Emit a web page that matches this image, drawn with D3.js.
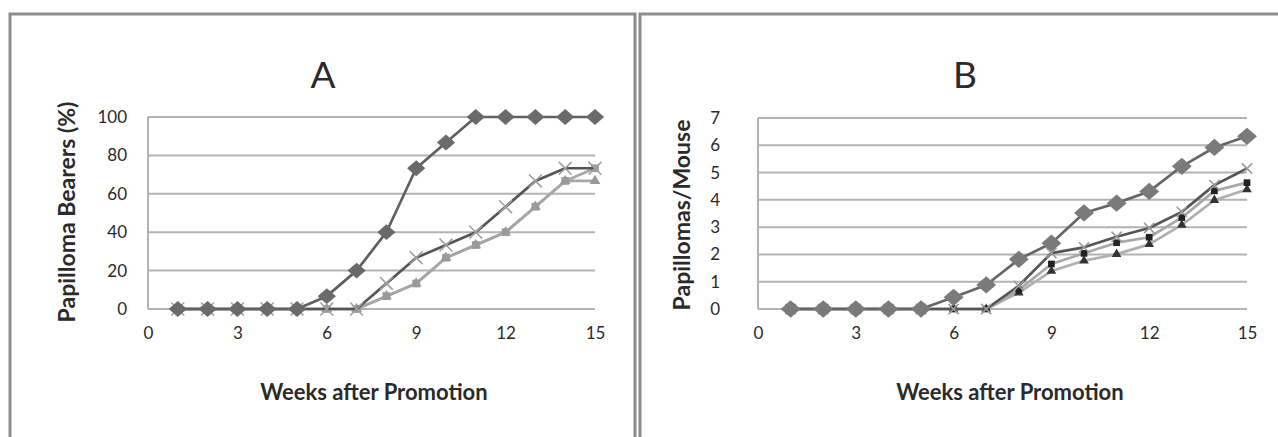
<!DOCTYPE html>
<html><head><meta charset="utf-8">
<script src="https://cdn.jsdelivr.net/npm/d3@7"></script>
<style>
html,body{margin:0;padding:0;background:#fff;}
svg{display:block;}
text{font-family:Lato, "Open Sans", sans-serif;fill:#2a2a2a;}
</style></head>
<body>
<svg id="chart" width="1278" height="437"></svg>
<script>
const weeks = [1,2,3,4,5,6,7,8,9,10,11,12,13,14,15];
const xTicks = [0,3,6,9,12,15];

// Panel A: Papilloma Bearers (%)
const aDiamond  = [0,0,0,0,0,6.7,20,40,73.3,86.7,100,100,100,100,100];
const aCross    = [0,0,0,0,0,0,0,13.3,26.7,33.3,40,53.3,66.7,73.3,73.3];
const aSquare   = [0,0,0,0,0,0,0,6.7,13.3,26.7,33.3,40,53.3,66.7,73.3];
const aTriangle = [0,0,0,0,0,0,0,6.7,13.3,26.7,33.3,40,53.3,66.7,66.7];
const aYTicks = [0,20,40,60,80,100];

// Panel B: Papillomas/Mouse
const bDiamond  = [0,0,0,0,0,0.43,0.88,1.82,2.41,3.52,3.88,4.31,5.23,5.92,6.33];
const bCross    = [0,0,0,0,0,0,0,0.85,2.05,2.26,2.65,2.97,3.56,4.54,5.15];
const bSquare   = [0,0,0,0,0,0,0,0.7,1.65,2.04,2.43,2.63,3.35,4.33,4.63];
const bTriangle = [0,0,0,0,0,0,0,0.6,1.39,1.77,2.01,2.37,3.08,3.99,4.38];
const bYTicks = [0,1,2,3,4,5,6,7];

const svg = d3.select("#chart");

// frames
svg.append("path").attr("d","M10,440 L10,14 L635,14 L635,440")
  .attr("fill","none").attr("stroke","#8c8c8c").attr("stroke-width",3);
svg.append("path").attr("d","M640,440 L640,14 L1280,14")
  .attr("fill","none").attr("stroke","#8c8c8c").attr("stroke-width",3);

function panel(cfg){
  const g = svg.append("g");
  const x = d3.scaleLinear().domain([0,15]).range([cfg.x0,cfg.x1]);
  const y = d3.scaleLinear().domain([0,cfg.ymax]).range([cfg.y0,cfg.y1]);

  // gridlines
  g.selectAll(".grid").data(cfg.yTicks).join("line")
    .attr("x1",cfg.x0).attr("x2",cfg.x1)
    .attr("y1",d=>y(d)).attr("y2",d=>y(d))
    .attr("stroke","#b3b3b3").attr("stroke-width",2);
  // left axis line
  g.append("line").attr("x1",cfg.x0).attr("x2",cfg.x0)
    .attr("y1",y(0)).attr("y2",y(cfg.ymax))
    .attr("stroke","#b3b3b3").attr("stroke-width",2);

  // y tick labels
  const yAxis = d3.axisLeft(y).tickValues(cfg.yTicks).tickFormat(d3.format("d")).tickSize(0).tickPadding(cfg.ypad);
  const ya = g.append("g").attr("transform",`translate(${cfg.x0},0)`).call(yAxis);
  ya.select(".domain").remove();
  ya.selectAll("text").style("font-family","Lato, sans-serif").style("font-size","17px").attr("fill","#333");

  // x tick labels
  const xAxis = d3.axisBottom(x).tickValues(xTicks).tickFormat(d3.format("d")).tickSize(0).tickPadding(18);
  const xa = g.append("g").attr("transform",`translate(0,${y(0)})`).call(xAxis);
  xa.select(".domain").remove();
  xa.selectAll("text").style("font-family","Lato, sans-serif").style("font-size","17px").attr("fill","#333");

  // titles
  g.append("text").attr("x",cfg.titleX).attr("y",88).attr("text-anchor","middle")
    .style("font-size","37px").text(cfg.title);
  g.append("text").attr("x",cfg.xlabX).attr("y",400).attr("text-anchor","middle")
    .style("font-size","22px").style("font-weight","bold").text("Weeks after Promotion");
  g.append("text").attr("transform",`translate(${cfg.ylabX},${cfg.ylabY}) rotate(-90)`)
    .attr("text-anchor","middle").style("font-size","23px").style("font-weight","bold").text(cfg.ylabel);

  const line = d3.line().x((d,i)=>x(weeks[i])).y(d=>y(d));

  cfg.series.forEach(s=>{
    const sg = g.append("g");
    sg.append("path").datum(s.values).attr("d",line).attr("fill","none")
      .attr("stroke",s.line).attr("stroke-width",2.7).attr("stroke-linejoin","round");
    const pts = sg.selectAll(".m").data(s.values).join("g")
      .attr("transform",(d,i)=>`translate(${x(weeks[i])},${y(d)})`);
    if(s.shape==="diamond"){
      pts.append("path").attr("d",d3.symbol(d3.symbolDiamond2,s.size)())
        .attr("transform","scale(1.15,1)").attr("fill",s.marker);
    } else if(s.shape==="cross"){
      pts.append("path").attr("d",d3.symbol(d3.symbolX,s.size)())
        .attr("fill","none").attr("stroke",s.marker).attr("stroke-width",1.6);
    } else if(s.shape==="square"){
      pts.append("path").attr("d",d3.symbol(d3.symbolSquare,s.size)()).attr("fill",s.marker);
    } else {
      pts.append("path").attr("d",d3.symbol(d3.symbolTriangle,s.size)()).attr("fill",s.marker);
    }
  });
}

panel({
  x0:148, x1:595, y0:309, y1:117, ymax:100, yTicks:aYTicks, ypad:21,
  title:"A", titleX:323, xlabX:374, ylabX:75, ylabY:212,
  ylabel:"Papilloma Bearers (%)",
  series:[
    {values:aTriangle, line:"#a6a6a6", marker:"#9a9a9a", shape:"triangle", size:50},
    {values:aSquare,   line:"#a6a6a6", marker:"#9a9a9a", shape:"square", size:60},
    {values:aCross,    line:"#555555", marker:"#a0a0a0", shape:"cross", size:110},
    {values:aDiamond,  line:"#606060", marker:"#6a6a6a", shape:"diamond", size:160}
  ]
});

panel({
  x0:758, x1:1247, y0:309, y1:118, ymax:7, yTicks:bYTicks, ypad:38,
  title:"B", titleX:965, xlabX:1010, ylabX:690, ylabY:215,
  ylabel:"Papillomas/Mouse",
  series:[
    {values:bTriangle, line:"#b0b0b0", marker:"#333333", shape:"triangle", size:40},
    {values:bSquare,   line:"#a8a8a8", marker:"#222222", shape:"square", size:45},
    {values:bCross,    line:"#555555", marker:"#9a9a9a", shape:"cross", size:70},
    {values:bDiamond,  line:"#666666", marker:"#7a7a7a", shape:"diamond", size:190}
  ]
});
</script>
</body></html>
